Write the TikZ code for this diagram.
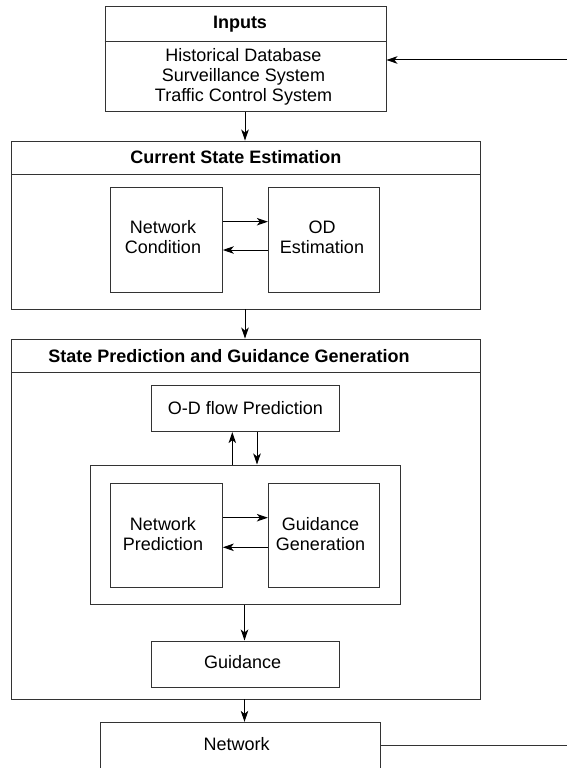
\documentclass[tikz,border=0pt]{standalone}
\usepackage{fontspec}
\setmainfont{Liberation Sans}
\usetikzlibrary{arrows.meta,calc}
\tikzset{
  boxline/.style={draw=black!80, line width=0.9pt},
  box/.style={boxline, rectangle, inner sep=0pt, align=center,
    font=\fontsize{18}{20}\selectfont},
  ttl/.style={inner sep=0pt, font=\fontsize{18}{20}\selectfont\bfseries},
  txt/.style={inner sep=0pt, align=center, font=\fontsize{18}{20}\selectfont},
  arr/.style={draw=black, line width=1pt, -{Stealth[length=11pt,width=7.5pt,inset=3pt]}},
  plain/.style={draw=black!80, line width=0.9pt}
}
\begin{document}
\begin{tikzpicture}[x=1pt,y=-1pt]
\useasboundingbox (0,0) rectangle (567,768);
\fill[white] (0,0) rectangle (567,768);

% Inputs
\node[box, minimum width=281pt, minimum height=104.7pt] (inp) at (245.5,59.3) {};
\node[ttl] (inpT) at (240,24.5) {Inputs};
\draw[plain] (inp.west |- 0,41.7) -- (inp.east |- 0,41.7);
\node[txt] (inpL) at (243.5,77) {Historical Database\\Surveillance System\\Traffic Control System};

% Current State Estimation
\node[box, minimum width=468.5pt, minimum height=168pt] (cse) at (245.75,225) {};
\node[ttl] (cseT) at (235.8,157.5) {Current State Estimation};
\draw[plain] (cse.west |- 0,174) -- (cse.east |- 0,174);
\node[box, minimum width=112.3pt, minimum height=105pt] (nc) at (166.2,240.2) {};
\node[txt] (ncL) at (163,237.5) {Network\\Condition};
\node[box, minimum width=111pt, minimum height=105pt] (od) at (323.8,240.2) {};
\node[txt] (odL) at (322,237.5) {OD\\Estimation};

% State Prediction and Guidance Generation
\node[box, minimum width=468.5pt, minimum height=360pt] (spg) at (245.75,519) {};
\node[ttl] (spgT) at (229,356) {State Prediction and Guidance Generation};
\draw[plain] (spg.west |- 0,372.7) -- (spg.east |- 0,372.7);
\node[box, minimum width=187.6pt, minimum height=46.7pt] (odf) at (245.5,408.3) {O-D flow Prediction};
\node[box, minimum width=309.3pt, minimum height=139.7pt] (inr) at (245.3,534.8) {};
\node[box, minimum width=112.3pt, minimum height=104.4pt] (np) at (166.2,535.5) {};
\node[txt] (npL) at (163,534) {Network\\Prediction};
\node[box, minimum width=111pt, minimum height=104.4pt] (gg) at (323.8,535.5) {};
\node[txt] (ggL) at (320.5,534) {Guidance\\Generation};
\node[box, minimum width=187.3pt, minimum height=46.7pt] (gd) at (245.3,664.3) {};
\node[txt] (gdL) at (242.7,662) {Guidance};

% Network (extends below the page)
\node[box, minimum width=280.7pt, minimum height=90pt] (net) at (240.35,767.3) {};
\node[txt] (netL) at (236.7,744) {Network};

% coordinates for arrow levels
\coordinate (a1) at (0,221.7);
\coordinate (a2) at (0,250);
\coordinate (b1) at (0,517.7);
\coordinate (b2) at (0,547.3);
\coordinate (u1) at (232.3,0);
\coordinate (u2) at (257,0);
\coordinate (m1) at (245,0);
\coordinate (m2) at (244.5,0);
\coordinate (fbin) at (580,60);
\coordinate (fbout) at (580,745);
\coordinate (r1) at (0,60);
\coordinate (r2) at (0,745);

% connectors
\draw[arr] (inp.south -| m1) -- (cse.north -| m1);
\draw[arr] (cse.south -| m1) -- (spg.north -| m1);
\draw[arr] (nc.east |- a1) -- (od.west |- a1);
\draw[arr] (od.west |- a2) -- (nc.east |- a2);
\draw[arr] (inr.north -| u1) -- (odf.south -| u1);
\draw[arr] (odf.south -| u2) -- (inr.north -| u2);
\draw[arr] (np.east |- b1) -- (gg.west |- b1);
\draw[arr] (gg.west |- b2) -- (np.east |- b2);
\draw[arr] (inr.south -| m2) -- (gd.north -| m2);
\draw[arr] (spg.south -| m2) -- (net.north -| m2);
\draw[plain] (net.east |- r2) -- (fbout);
\draw[arr] (fbin) -- (inp.east |- r1);
\end{tikzpicture}
\end{document}
